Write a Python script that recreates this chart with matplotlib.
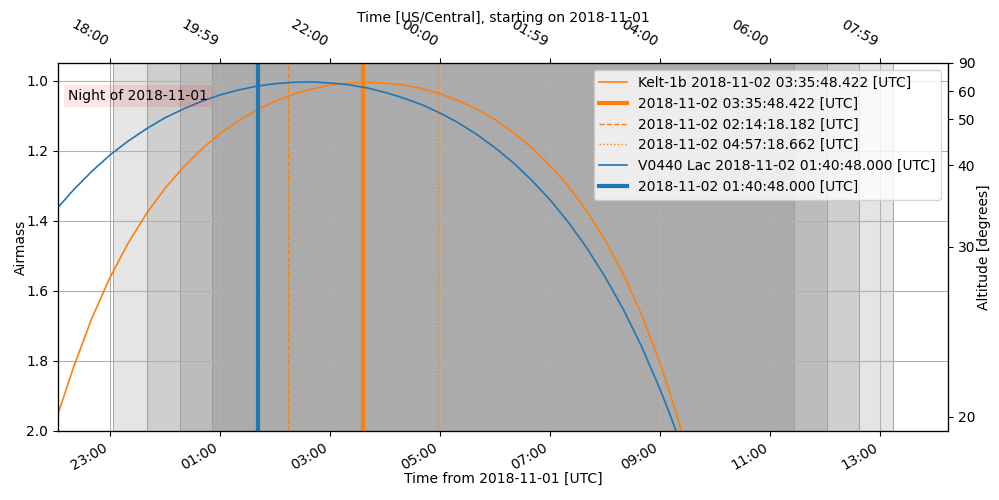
import pandas as pd
import matplotlib
matplotlib.use("Agg")
import matplotlib.pyplot as plt
import matplotlib.dates as mdates

# sample times (UTC) and airmass values
curve_times = [
    "2018-11-01 22:03", "2018-11-01 22:20", "2018-11-01 22:40", "2018-11-01 23:00",
    "2018-11-01 23:20", "2018-11-01 23:40", "2018-11-02 00:00", "2018-11-02 00:20",
    "2018-11-02 00:40", "2018-11-02 01:00", "2018-11-02 01:20", "2018-11-02 01:40",
    "2018-11-02 02:00", "2018-11-02 02:20", "2018-11-02 02:40", "2018-11-02 03:00",
    "2018-11-02 03:20", "2018-11-02 03:40", "2018-11-02 04:00", "2018-11-02 04:20",
    "2018-11-02 04:40", "2018-11-02 05:00", "2018-11-02 05:20", "2018-11-02 05:40",
    "2018-11-02 06:00", "2018-11-02 06:20", "2018-11-02 06:40", "2018-11-02 07:00",
    "2018-11-02 07:20", "2018-11-02 07:40", "2018-11-02 08:00", "2018-11-02 08:20",
    "2018-11-02 08:40", "2018-11-02 09:00", "2018-11-02 09:10", "2018-11-02 09:20",
    "2018-11-02 09:30",
]

kelt_airmass = [
    1.952, 1.818, 1.678, 1.561, 1.462, 1.378, 1.307, 1.247, 1.195, 1.151,
    1.115, 1.084, 1.059, 1.039, 1.024, 1.013, 1.007, 1.005, 1.007, 1.013,
    1.023, 1.038, 1.058, 1.082, 1.112, 1.149, 1.192, 1.243, 1.302, 1.373,
    1.456, 1.554, 1.670, 1.807, 1.886, 1.972, 2.068,
]
v0440_airmass = [
    1.362, 1.312, 1.259, 1.212, 1.172, 1.137, 1.106, 1.081, 1.059, 1.041,
    1.027, 1.016, 1.009, 1.005, 1.004, 1.007, 1.012, 1.021, 1.034, 1.050,
    1.069, 1.093, 1.121, 1.154, 1.192, 1.235, 1.285, 1.341, 1.405, 1.478,
    1.561, 1.654, 1.761, 1.882, 1.949, 2.019, 2.095,
]

kelt_label = "Kelt-1b 2018-11-02 03:35:48.422 [UTC]"
kelt_mid = "2018-11-02 03:35:48.422"
kelt_ingress = "2018-11-02 02:14:18.182"
kelt_egress = "2018-11-02 04:57:18.662"
v0440_label = "V0440 Lac 2018-11-02 01:40:48.000 [UTC]"
v0440_mid = "2018-11-02 01:40:48.000"

# twilight boundaries, from sunset to sunrise
twilight_edges = [
    "2018-11-01 23:03", "2018-11-01 23:40", "2018-11-02 00:16", "2018-11-02 00:51",
    "2018-11-02 11:26", "2018-11-02 12:02", "2018-11-02 12:37", "2018-11-02 13:14",
]
twilight_colors = ["#e5e5e5", "#cfcfcf", "#bcbcbc", "#ababab", "#bcbcbc", "#cfcfcf", "#e5e5e5"]

time_start = "2018-11-01 22:03"
time_end = "2018-11-02 14:14"

utc_ticks = ["2018-11-01 23:00", "2018-11-02 01:00", "2018-11-02 03:00", "2018-11-02 05:00",
             "2018-11-02 07:00", "2018-11-02 09:00", "2018-11-02 11:00", "2018-11-02 13:00"]
local_tick_labels = ["18:00", "19:59", "22:00", "00:00", "01:59", "04:00", "06:00", "07:59"]

airmass_ticks = [1.0, 1.2, 1.4, 1.6, 1.8, 2.0]
altitude_ticks = [90, 60, 50, 40, 30, 20]
altitude_airmass = [1.0, 1.1547, 1.3054, 1.5557, 2.0, 2.9238]

orange = "#ff7f0e"
blue = "#1f77b4"

t = pd.to_datetime(curve_times)
edges = pd.to_datetime(twilight_edges)

fig = plt.figure(figsize=(9.99, 5.0), dpi=100)
fig.subplots_adjust(left=0.058, right=0.949, top=0.874, bottom=0.138)
ax = fig.add_subplot(111)

for i, c in enumerate(twilight_colors):
    ax.axvspan(edges[i], edges[i + 1], facecolor=c, edgecolor="#9a9a9a", lw=0.6, zorder=1)

ax.plot(t, kelt_airmass, color=orange, lw=1.2, label=kelt_label)
ax.axvline(pd.Timestamp(kelt_mid), color=orange, lw=3, label=kelt_mid + " [UTC]")
ax.axvline(pd.Timestamp(kelt_ingress), color=orange, lw=1, ls="--", label=kelt_ingress + " [UTC]")
ax.axvline(pd.Timestamp(kelt_egress), color=orange, lw=1, ls=":", label=kelt_egress + " [UTC]")
ax.plot(t, v0440_airmass, color=blue, lw=1.2, label=v0440_label)
ax.axvline(pd.Timestamp(v0440_mid), color=blue, lw=3, label=v0440_mid + " [UTC]")

ax.set_xlim(pd.Timestamp(time_start), pd.Timestamp(time_end))
ax.set_ylim(2.0, 0.95)
ax.set_yticks(airmass_ticks)
ax.set_yticklabels([f"{v:.1f}" for v in airmass_ticks])
ax.set_xticks(pd.to_datetime(utc_ticks))
ax.xaxis.set_major_formatter(mdates.DateFormatter("%H:%M"))
plt.setp(ax.get_xticklabels(), rotation=30, ha="right")
ax.grid(True)
ax.set_ylabel("Airmass", labelpad=-1)
ax.set_xlabel("Time from 2018-11-01 [UTC]", labelpad=-1)

ax.text(0.011, 0.91, "Night of 2018-11-01", transform=ax.transAxes, va="center", fontsize=10,
        bbox=dict(facecolor="red", alpha=0.1, edgecolor="none", pad=3))

ax.legend(loc="upper right", fontsize=10)

ax_alt = ax.twinx()
ax_alt.set_ylim(3.0, 1.0)
ax_alt.set_yticks(altitude_airmass)
ax_alt.set_yticklabels([str(a) for a in altitude_ticks])
ax_alt.set_ylabel("Altitude [degrees]", labelpad=1)

ax_top = ax.twiny()
ax_top.set_xlim(ax.get_xlim())
ax_top.set_xticks(pd.to_datetime(utc_ticks))
ax_top.set_xticklabels(local_tick_labels, rotation=-30, ha="right")
ax_top.tick_params(axis="x", pad=6)
ax_top.set_xlabel("Time [US/Central], starting on 2018-11-01", labelpad=-3)

fig.savefig("out.png", dpi=100)
